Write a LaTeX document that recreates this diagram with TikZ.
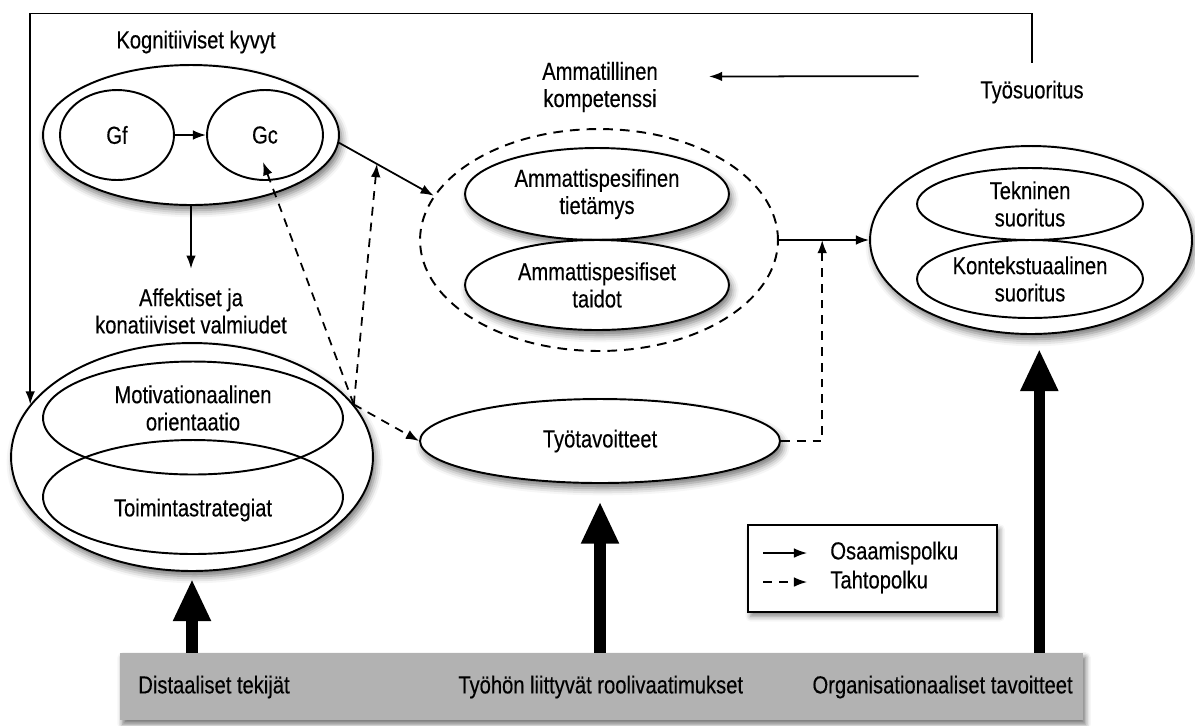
\documentclass[tikz,border=0pt]{standalone}
\usepackage{fontspec}
\setmainfont{Liberation Sans}[FakeStretch=0.82, FakeBold=0.3]
\usetikzlibrary{shapes.geometric, arrows.meta, calc, shadows.blur}

\begin{document}
\begin{tikzpicture}[
        x=0.02cm, y=-0.02cm,
        font=\fontsize{14}{15.5}\selectfont,
        >={Latex[length=7.5pt,width=5.5pt]},
        oval/.style={ellipse, draw, line width=1.1pt, inner sep=0pt, align=center},
        shaded oval/.style={oval, fill=white,
            blur shadow={shadow xshift=1.5pt, shadow yshift=-3pt, shadow blur radius=4pt, shadow opacity=55}},
        heading/.style={align=center, inner sep=1pt},
        skill arrow/.style={->, line width=1pt},
        will arrow/.style={->, line width=1pt, dash pattern=on 5pt off 4pt},
        factor/.style={-{Triangle[length=24pt,width=20pt]}, line width=6.5pt},
        bartext/.style={inner sep=0pt}
    ]
        \useasboundingbox (0,0) rectangle (1195,725);

        % Kognitiiviset kyvyt
        \node[heading] (kogtitle) at (196,42) {Kognitiiviset kyvyt};
        \node[shaded oval, minimum width=5.92cm, minimum height=2.8cm] (kog) at (191,135) {};
        \node[oval, minimum width=2.28cm, minimum height=1.8cm] (gf) at (117,135) {Gf};
        \node[oval, minimum width=2.32cm, minimum height=1.8cm] (gc) at (265,135) {Gc};

        % Affektiset ja konatiiviset valmiudet
        \node[heading] (afftitle) at (191,311) {Affektiset ja\\konatiiviset valmiudet};
        \node[shaded oval, minimum width=7.24cm, minimum height=4.56cm] (aff) at (192,457) {};
        \node[oval, minimum width=6cm, minimum height=2.26cm] (mot) at (193,418) {};
        \node[oval, minimum width=6cm, minimum height=2.28cm] (toim) at (193,497) {};
        \node[heading] (mottext) at (193,408) {Motivationaalinen\\orientaatio};
        \node[heading] (toimtext) at (193,510) {Toimintastrategiat};

        % Ammatillinen kompetenssi
        \node[heading] (amtitle) at (600,87) {Ammatillinen\\kompetenssi};
        \node[oval, minimum width=7.16cm, minimum height=4.44cm, dash pattern=on 5.5pt off 4pt] (komp) at (599,240) {};
        \node[shaded oval, minimum width=5.28cm, minimum height=1.84cm] (tiet) at (597,194) {Ammattispesifinen\\tietämys};
        \node[shaded oval, minimum width=5.28cm, minimum height=1.8cm] (taid) at (597,285) {Ammattispesifiset\\taidot};

        % Työtavoitteet
        \node[shaded oval, minimum width=7.2cm, minimum height=1.68cm] (tyot) at (600,441) {Työtavoitteet};

        % Työsuoritus
        \node[heading] (suortitle) at (1032,92) {Työsuoritus};
        \node[shaded oval, minimum width=6.44cm, minimum height=3.76cm] (suor) at (1031,240) {};
        \node[oval, minimum width=4.52cm, minimum height=1.44cm] (tek) at (1030,204) {Tekninen\\suoritus};
        \node[oval, minimum width=4.52cm, minimum height=1.56cm] (kont) at (1030,279) {Kontekstuaalinen\\suoritus};

        % Osaamispolku
        \draw[skill arrow] (gf) -- (gc);
        \draw[skill arrow] (kog.south) -- ([yshift=10pt]afftitle.north);
        \draw[skill arrow] (kog.-3) -- (komp.165);
        \draw[skill arrow] (komp.east) -- (suor.west);
        \draw[skill arrow] ([shift={(-34pt,9pt)}]suortitle.west) -- ([shift={(28pt,6pt)}]amtitle.east);
        \draw[skill arrow, shorten <=9pt] (suortitle.north) -- ++(0,-65) -| (aff.162);

        % Tahtopolku
        \coordinate (affout) at (aff.18);
        \coordinate (kogline) at ($(kog.-3)!0.4!(komp.165)$);
        \coordinate (meet) at ($(komp.east)!0.48!(suor.west)$);
        \draw[will arrow] (affout) -- ([shift={(-2,27)}]gc.center);
        \draw[will arrow] (affout) -- (kogline);
        \draw[will arrow] (affout) -- (tyot.west);
        \draw[will arrow] (tyot.east) -| (meet);

        % Distaaliset ja proksimaaliset tekijät
        \node[rectangle, fill=gray!60, minimum width=19.26cm, minimum height=1.34cm,
            blur shadow={shadow xshift=1.5pt, shadow yshift=-2.5pt, shadow blur radius=3pt, shadow opacity=55}] (bar) at (601.5,686.5) {};
        \node[bartext, anchor=west] (distal) at (138,687) {Distaaliset tekijät};
        \node[bartext, anchor=west] (role) at (458,687) {Työhön liittyvät roolivaatimukset};
        \node[bartext, anchor=east] (org) at (1073,687) {Organisationaaliset tavoitteet};
        \draw[factor, shorten >=4pt] (aff.south |- bar.north) -- (aff.south);
        \draw[factor, shorten >=10pt] (tyot.south |- bar.north) -- (tyot.south);
        \draw[factor, shorten >=8pt] (suor.-85 |- bar.north) -- (suor.-85);

        % Legend
        \node[rectangle, draw, line width=0.8pt, fill=white, minimum width=4.98cm, minimum height=1.74cm,
            blur shadow={shadow xshift=1.5pt, shadow yshift=-2.5pt, shadow blur radius=3pt, shadow opacity=50}] (legend) at (872.5,568.5) {};
        \node[bartext, anchor=west] (osa) at (830,553) {Osaamispolku};
        \node[bartext, anchor=west] (tahto) at (830,582) {Tahtopolku};
        \draw[skill arrow] ([xshift=-38pt]osa.west) -- ([xshift=-13pt]osa.west);
        \draw[will arrow] ([xshift=-38pt]tahto.west) -- ([xshift=-13pt]tahto.west);
    \end{tikzpicture}
\end{document}
